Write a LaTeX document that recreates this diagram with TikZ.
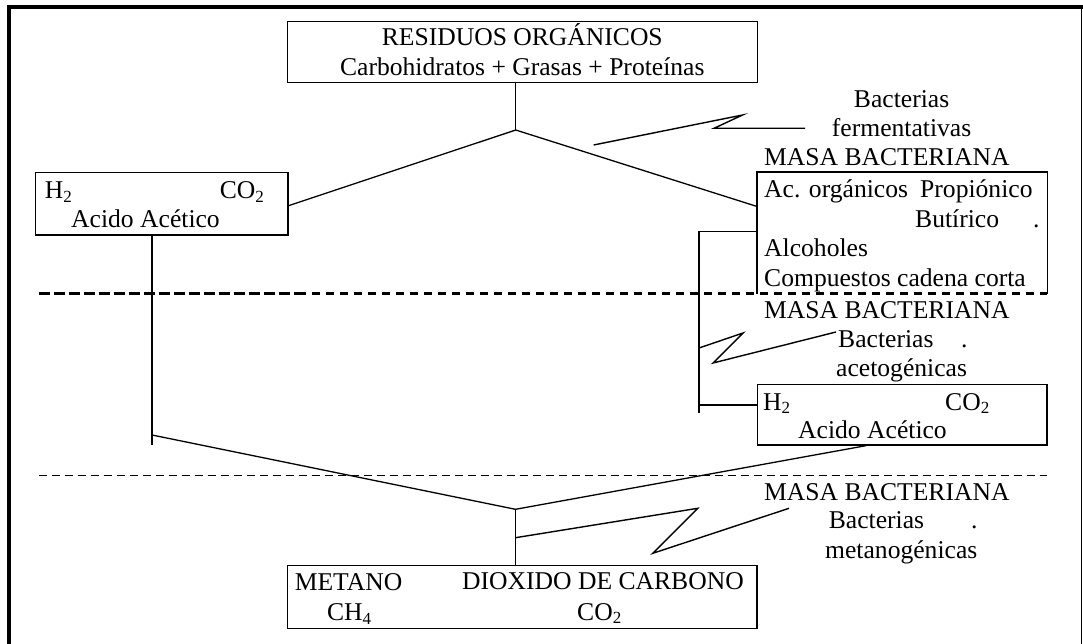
\documentclass[tikz,border=0pt]{standalone}
\usepackage{fontspec}
\setmainfont{Liberation Serif}
\usetikzlibrary{calc}
\newcommand\sbs[1]{\raisebox{-0.3ex}{\fontsize{17}{17}\selectfont #1}}
\begin{document}
\begin{tikzpicture}[x=1pt,y=-1pt,
  font=\fontsize{25.6}{30}\selectfont,
  box/.style={draw,line width=1.4pt,inner sep=0pt},
  hidebox/.style={inner sep=0pt},
  txt/.style={anchor=base west,inner sep=0pt},
  ctxt/.style={anchor=base,inner sep=0pt},
  conn/.style={line width=1.3pt},
  zig/.style={line width=1.4pt,line join=miter},
  thickdashA/.style={line width=3pt,dash pattern=on 11pt off 4pt},
  thickdashB/.style={line width=3pt,dash pattern=on 8pt off 6pt},
  thindash/.style={line width=1.3pt,dash pattern=on 8pt off 5pt}]
\useasboundingbox (0,0) rectangle (1083,644);
% frame
\draw[line width=4pt] (9.3,660) -- (9.3,7.3) -- (1083,7.3);
\draw[line width=1.5pt] (1081.5,7.3) -- (1081.5,660);

% boxes
\node[box,minimum width=470pt,minimum height=60.6pt] (top) at (522.3,52) {};
\node[box,minimum width=252.3pt,minimum height=62.7pt] (lbox) at (161.85,203.65) {};
\node[hidebox,minimum width=289.7pt,minimum height=121pt] (rbox) at (902.15,232.8) {};
\draw[line width=1.4pt] (rbox.south west) -- (rbox.north west) -- (rbox.north east) -- (rbox.south east);
\node[box,minimum width=289.5pt,minimum height=60.7pt] (hbox) at (902.25,414.65) {};
\node[box,minimum width=469.5pt,minimum height=62.6pt] (mbox) at (522.25,597) {};

% dashed separators
\coordinate (d1a) at (38.6,293.3);
\coordinate (d1m) at (298,293.3);
\coordinate (d1b) at (1047,293.3);
\draw[thickdashA] (d1a) -- (d1m);
\draw[thickdashB] (d1m) -- (d1b);
\coordinate (d2a) at (38.6,475.7);
\coordinate (d2b) at (1047,475.7);
\draw[thindash] (d2a) -- (d2b);

% texts
\node[ctxt] (t1) at (522.3,45.7) {RESIDUOS ORGÁNICOS};
\node[ctxt] (t2) at (522.3,76) {Carbohidratos + Grasas + Proteínas};

\node[txt] (l1) at (44.6,199) {H\sbs{2}};
\node[txt] (l2) at (219.6,199) {CO\sbs{2}};
\node[txt] (l3) at (71,228) {Acido Acético};

\node[ctxt] (f1) at (901.6,108) {Bacterias};
\node[ctxt] (f2) at (901.6,136.7) {fermentativas};
\node[txt] (m1) at (764,165.7) {MASA BACTERIANA};

\node[txt] (r1) at (764,198) {Ac. orgánicos};
\node[txt] (r2) at (920,198) {Propiónico};
\node[txt] (r3) at (915,227.7) {Butírico};
\node[txt] (r3d) at (1033,227.7) {.};
\node[txt] (r4) at (764,256.7) {Alcoholes};
\node[txt] (r5) at (764,286.7) {Compuestos cadena corta};

\node[txt] (m2) at (764,318.3) {MASA BACTERIANA};
\node[txt] (a1t) at (838,347.7) {Bacterias};
\node[txt] (a1d) at (961,347.7) {.};
\node[txt] (a2t) at (836,376.7) {acetogénicas};

\node[txt] (h1) at (763,410) {H\sbs{2}};
\node[txt] (h2) at (945,410) {CO\sbs{2}};
\node[txt] (h3) at (798,438.3) {Acido Acético};

\node[txt] (m3) at (764,500) {MASA BACTERIANA};
\node[txt] (b1t) at (828.7,528.3) {Bacterias};
\node[txt] (b1d) at (971,528.3) {.};
\node[txt] (b2t) at (825,558.3) {metanogénicas};

\node[txt] (o1) at (294.6,590) {METANO};
\node[txt] (o2) at (326.8,620.7) {CH\sbs{4}};
\node[txt] (o3) at (462,589.3) {DIOXIDO DE CARBONO};
\node[txt] (o4) at (577,620.3) {CO\sbs{2}};

% connectors
\coordinate (ap1) at (515.7,130);
\draw[conn] (ap1 |- top.south) -- (ap1);
\draw[conn] (ap1) -- ($(lbox.east)+(0,2)$);
\draw[conn] (ap1) -- ($(rbox.north west)+(0,34.4)$);

\coordinate (ap2) at (515.5,509.3);
\coordinate (lv) at (152,445);
\coordinate (lc) at (152,435);
\draw[conn] (lv |- lbox.south) -- (lv);
\draw[conn] (lc) -- (ap2);

\coordinate (rt) at (699,231.7);
\coordinate (rv) at (699,413);
\coordinate (rh) at (699,405);
\draw[conn] (rbox.west |- rt) -- (rt) -- (rv);
\draw[line width=2.6pt] (rh) -- (hbox.west |- rh);
\draw[conn] ($(hbox.south west)+(109,0)$) -- (ap2);
\draw[conn] (ap2) -- (ap2 |- mbox.north);

% lightning marks
\coordinate (z1a) at (593.6,145);
\coordinate (z1b) at (742.6,115);
\coordinate (z1c) at (714,128.3);
\coordinate (z1d) at (805,128.3);
\draw[zig] (z1a) -- (z1b) -- (z1c) -- (z1d);

\coordinate (z2a) at (699,348);
\coordinate (z2b) at (743,333);
\coordinate (z2c) at (713,363);
\coordinate (z2d) at (836,332);
\draw[zig] (z2a) -- (z2b) -- (z2c) -- (z2d);

\coordinate (z3a) at (515.5,537.7);
\coordinate (z3b) at (697.7,508.3);
\coordinate (z3c) at (652.8,553.3);
\coordinate (z3d) at (789,508.3);
\draw[zig] (z3a) -- (z3b) -- (z3c) -- (z3d);
\end{tikzpicture}
\end{document}
